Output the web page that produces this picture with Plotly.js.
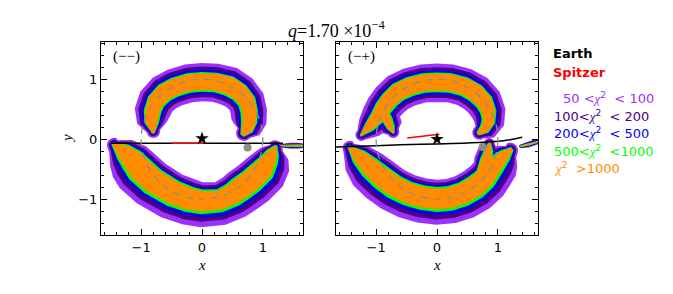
<!DOCTYPE html>
<html><head><meta charset="utf-8">
<script src="https://cdn.plot.ly/plotly-3.0.1.min.js"></script>
<style>html,body{margin:0;padding:0;background:#fff}</style>
</head><body><div id="chart" style="width:673px;height:294px"></div>
<script>
// ---------- data ----------
const levelColors = ['#9B30FF','#4B0082','#0000FF','#00FF00','#FF8C00'];

// extra half-widths of each chi2 level beyond the core (outer level -> core)
const padUpOuter  = [0.17, 0.11, 0.06, 0.02, 0];
const padUpInner  = [0.19, 0.12, 0.07, 0.03, 0];
const padLowInner = [0.15, 0.10, 0.06, 0.03, 0];
const padLowOuter = [0.26, 0.17, 0.10, 0.045, 0];
const padSmall    = [0.045, 0.03, 0.02, 0.01, 0];

// left panel (--) : upper arc
const luX = [-0.80,-0.83,-0.82,-0.76,-0.62,-0.45,-0.22, 0.00, 0.22, 0.45, 0.62, 0.74, 0.78, 0.78, 0.74, 0.69];
const luY = [ 0.13, 0.27, 0.46, 0.63, 0.78, 0.87, 0.94, 0.96, 0.95, 0.89, 0.78, 0.63, 0.46, 0.29, 0.16, 0.10];
const luW = [ 0.03, 0.10, 0.12, 0.13, 0.14, 0.14, 0.14, 0.14, 0.14, 0.15, 0.14, 0.13, 0.12, 0.11, 0.09, 0.05];
// left panel : lower arc
const llX = [-1.44,-1.30,-1.15,-1.02,-0.80,-0.47,-0.20, 0.00, 0.29, 0.50, 0.62, 0.80, 1.00, 1.10, 1.16, 1.20];
const llY = [-0.10,-0.20,-0.34,-0.50,-0.70,-0.90,-1.00,-1.04,-1.02,-0.92,-0.83,-0.70,-0.51,-0.35,-0.22,-0.14];
const llW = [ 0.03, 0.12, 0.17, 0.20, 0.20, 0.19, 0.18, 0.17, 0.16, 0.17, 0.18, 0.18, 0.17, 0.12, 0.08, 0.03];
// left panel : small blobs on the right
const lbX = [1.30, 1.45, 1.58, 1.70];
const lbY = [-0.11,-0.11,-0.11,-0.11];
const lbW = [0.01, 0.015, 0.015, 0.015];

// right panel (-+) : upper arc
const ruX = [-1.24,-1.12,-0.99,-0.89,-0.78,-0.64,-0.45,-0.22, 0.00, 0.22, 0.45, 0.64, 0.78, 0.85, 0.85, 0.78, 0.70];
const ruY = [ 0.07, 0.20, 0.36, 0.52, 0.66, 0.79, 0.88, 0.94, 0.95, 0.94, 0.88, 0.77, 0.62, 0.45, 0.29, 0.16, 0.11];
const ruW = [ 0.02, 0.07, 0.10, 0.12, 0.13, 0.14, 0.14, 0.14, 0.14, 0.14, 0.14, 0.14, 0.13, 0.11, 0.09, 0.07, 0.04];
// right panel : inner prong of upper arc
const rpX = [-0.92,-0.82,-0.76,-0.72];
const rpY = [ 0.50, 0.32, 0.19, 0.12];
const rpW = [ 0.08, 0.07, 0.05, 0.02];
// right panel : lower arc
const rlX = [-1.43,-1.28,-1.10,-0.90,-0.70,-0.48,-0.24, 0.00, 0.22, 0.43, 0.62, 0.78, 0.90, 1.02, 1.12, 1.20];
const rlY = [-0.15,-0.29,-0.47,-0.64,-0.79,-0.90,-0.97,-1.00,-0.98,-0.91,-0.80,-0.66,-0.50,-0.36,-0.26,-0.19];
const rlW = [ 0.03, 0.11, 0.15, 0.17, 0.17, 0.17, 0.17, 0.17, 0.17, 0.17, 0.17, 0.16, 0.14, 0.11, 0.08, 0.04];
// right panel : upward prong of lower arc
const rqX = [0.76, 0.81, 0.85, 0.86];
const rqY = [-0.55,-0.35,-0.18,-0.07];
const rqW = [0.10, 0.08, 0.05, 0.02];
// right panel : small blobs
const rbX = [1.38, 1.50, 1.62, 1.72];
const rbY = [-0.12,-0.09,-0.05,-0.03];
const rbW = [0.012,0.015,0.015,0.015];

// trajectories and objects
const earthLX = [-1.50, 1.33], earthLY = [-0.07, -0.07];
const spitzLX = [-0.50, 0.03], spitzLY = [-0.07, -0.07];
const earthRX = [-1.66,-1.00,-0.60, 0.00, 0.50, 0.90, 1.20, 1.40];
const earthRY = [-0.13,-0.11,-0.095,-0.08,-0.065,-0.045,-0.01, 0.03];
const spitzRX = [-0.49, 0.04], spitzRY = [0.02, 0.08];
const starLX = [0.0], starLY = [0.01], starRX = [0.0], starRY = [0.0];
const dotLX = [0.75], dotLY = [-0.14], dotRX = [0.75], dotRY = [-0.13];
const ringRadius = 1.0;

const xTicks = [-1, 0, 1], xTickText = ['−1','0','1'];
const yTicks = [-1, 0, 1], yTickText = ['−1','0','1'];

// ---------- geometry helpers ----------
function bandPolygon(cx, cy, hw, pl, pr) {
  const n = cx.length, L = [], R = [], ang = [];
  const taper = i => (i === 0 || i === n - 1) ? 0.45 : ((i === 1 || i === n - 2) ? 0.8 : 1);
  for (let i = 0; i < n; i++) {
    const i0 = Math.max(0, i - 1), i1 = Math.min(n - 1, i + 1);
    let tx = cx[i1] - cx[i0], ty = cy[i1] - cy[i0];
    const m = Math.hypot(tx, ty); tx /= m; ty /= m;
    const nx = -ty, ny = tx, t = taper(i);
    L.push([cx[i] + nx * (hw[i] + pl * t), cy[i] + ny * (hw[i] + pl * t)]);
    R.push([cx[i] - nx * (hw[i] + pr * t), cy[i] - ny * (hw[i] + pr * t)]);
    ang.push(Math.atan2(ny, nx));
  }
  const xs = [], ys = [];
  L.forEach(p => { xs.push(p[0]); ys.push(p[1]); });
  const steps = 8;
  let r = hw[n - 1] + taper(n - 1) * (pl + pr) / 2;
  for (let k = 1; k < steps; k++) {
    const a = ang[n - 1] - Math.PI * k / steps;
    xs.push(cx[n - 1] + r * Math.cos(a)); ys.push(cy[n - 1] + r * Math.sin(a));
  }
  for (let i = n - 1; i >= 0; i--) { xs.push(R[i][0]); ys.push(R[i][1]); }
  r = hw[0] + taper(0) * (pl + pr) / 2;
  for (let k = 1; k < steps; k++) {
    const a = ang[0] + Math.PI - Math.PI * k / steps;
    xs.push(cx[0] + r * Math.cos(a)); ys.push(cy[0] + r * Math.sin(a));
  }
  xs.push(xs[0]); ys.push(ys[0]);
  return {xs, ys};
}

const bands = [
  {x: luX, y: luY, w: luW, pl: padUpOuter,  pr: padUpInner,  ax: 'x',  ay: 'y'},
  {x: llX, y: llY, w: llW, pl: padLowInner, pr: padLowOuter, ax: 'x',  ay: 'y'},
  {x: lbX, y: lbY, w: lbW, pl: padSmall,    pr: padSmall,    ax: 'x',  ay: 'y'},
  {x: ruX, y: ruY, w: ruW, pl: padUpOuter,  pr: padUpInner,  ax: 'x2', ay: 'y2'},
  {x: rpX, y: rpY, w: rpW, pl: padUpInner,  pr: padUpOuter,  ax: 'x2', ay: 'y2'},
  {x: rlX, y: rlY, w: rlW, pl: padLowInner, pr: padLowOuter, ax: 'x2', ay: 'y2'},
  {x: rqX, y: rqY, w: rqW, pl: padLowInner, pr: padLowInner, ax: 'x2', ay: 'y2'},
  {x: rbX, y: rbY, w: rbW, pl: padSmall,    pr: padSmall,    ax: 'x2', ay: 'y2'}
];

const traces = [];
for (let lv = 0; lv < levelColors.length; lv++) {
  bands.forEach(b => {
    const p = bandPolygon(b.x, b.y, b.w, b.pl[lv], b.pr[lv]);
    traces.push({x: p.xs, y: p.ys, xaxis: b.ax, yaxis: b.ay, type: 'scatter', mode: 'lines',
      fill: 'toself', fillcolor: levelColors[lv], line: {width: 0},
      hoverinfo: 'skip', showlegend: false});
  });
}
function line(x, y, c, ax, ay) {
  return {x, y, xaxis: ax, yaxis: ay, type: 'scatter', mode: 'lines', line: {color: c, width: 1.5, shape: 'spline'},
    hoverinfo: 'skip', showlegend: false};
}
traces.push(line(earthLX, earthLY, '#000', 'x', 'y'));
traces.push(line(spitzLX, spitzLY, '#ff0000', 'x', 'y'));
traces.push(line(earthRX, earthRY, '#000', 'x2', 'y2'));
traces.push(line(spitzRX, spitzRY, '#ff0000', 'x2', 'y2'));
function mk(x, y, sym, sz, c, ax, ay) {
  return {x, y, xaxis: ax, yaxis: ay, type: 'scatter', mode: 'markers',
    marker: {symbol: sym, size: sz, color: c, line: {width: 0}}, hoverinfo: 'skip', showlegend: false};
}
traces.push(mk(dotLX, dotLY, 'circle', 8, '#8c8c8c', 'x', 'y'));
traces.push(mk(dotRX, dotRY, 'circle', 8, '#8c8c8c', 'x2', 'y2'));
traces.push(mk(starLX, starLY, 'star', 10, '#000', 'x', 'y'));
traces.push(mk(starRX, starRY, 'star', 10, '#000', 'x2', 'y2'));

// ---------- layout ----------
const W = 673, H = 294;
const px = v => v / W, py = v => 1 - v / H;
const tickFont = {family: 'DejaVu Sans, sans-serif', size: 13, color: '#000'};
function axis(dom, rng, tv, tt, showLabels, anchor) {
  return {domain: dom, range: rng, anchor, tickmode: 'array', tickvals: tv, ticktext: tt,
    showticklabels: showLabels, ticks: 'inside', ticklen: 6, tickwidth: 1, tickcolor: '#000',
    minor: {tickmode: 'linear', tick0: 0, dtick: 0.2, ticks: 'inside', ticklen: 3, tickwidth: 1, tickcolor: '#000'},
    showline: true, linecolor: '#000', linewidth: 1, mirror: 'ticks', showgrid: false, zeroline: false,
    tickfont: tickFont, fixedrange: true};
}
const xd1 = [101 / W, 303 / W], xd2 = [336 / W, 538 / W], yd = [1 - 235 / H, 1 - 42 / H];
const xr = [-1.66, 1.66], yr = [-1.6, 1.62];

const serif = 'Liberation Serif, DejaVu Serif, serif';
const sans = 'DejaVu Sans, sans-serif';
const ann = [];
function A(text, x, y, opts) {
  ann.push(Object.assign({text, x: px(x), y: py(y), xref: 'paper', yref: 'paper', showarrow: false,
    xanchor: 'left', yanchor: 'middle', font: {family: sans, size: 13, color: '#000'}}, opts || {}));
}
A('<i>q</i>=1.70 ×10<sup>−4</sup>', 336.5, 29, {xanchor: 'center', font: {family: serif, size: 18, color: '#000'}});
A('(−−)', 111, 56, {font: {family: serif, size: 15, color: '#000'}});
A('(−+)', 346, 56, {font: {family: serif, size: 15, color: '#000'}});
A('<i>x</i>', 202.3, 265, {xanchor: 'center', font: {family: serif, size: 15, color: '#000'}});
A('<i>x</i>', 437.3, 265, {xanchor: 'center', font: {family: serif, size: 15, color: '#000'}});
A('<i>y</i>', 67, 139, {xanchor: 'center', textangle: -90, font: {family: serif, size: 15, color: '#000'}});
A('<b>Earth</b>', 551, 54, {font: {family: sans, size: 13, color: '#000'}});
A('<b>Spitzer</b>', 551, 72, {font: {family: sans, size: 13, color: '#ff0000'}});
const chi = '<span style="font-family:Liberation Serif,serif"><i>χ</i></span><sup>2</sup>';
const legendTexts = ['50 &lt;' + chi + '  &lt; 100', '100&lt;' + chi + '  &lt; 200', '200&lt;' + chi + '  &lt; 500',
  '500&lt;' + chi + '  &lt;1000', chi + '  &gt;1000'];
const legendX = [561, 552, 552, 552, 552];
const legendY = [98, 116, 133, 151, 168];
legendTexts.forEach((t, i) => A(t, legendX[i], legendY[i], {font: {family: sans, size: 13, color: levelColors[i]}}));

const layout = {
  width: W, height: H, margin: {l: 0, r: 0, t: 0, b: 0}, paper_bgcolor: '#fff', plot_bgcolor: '#fff',
  showlegend: false,
  xaxis: axis(xd1, xr, xTicks, xTickText, true, 'y'),
  yaxis: axis(yd, yr, yTicks, yTickText, true, 'x'),
  xaxis2: axis(xd2, xr, xTicks, xTickText, true, 'y2'),
  yaxis2: axis(yd, yr, yTicks, yTickText, false, 'x2'),
  shapes: [
    {type: 'circle', xref: 'x', yref: 'y', x0: -ringRadius, x1: ringRadius, y0: -ringRadius, y1: ringRadius,
      line: {color: '#8c8c8c', width: 1.3, dash: '7px,6px'}, layer: 'above'},
    {type: 'circle', xref: 'x2', yref: 'y2', x0: -ringRadius, x1: ringRadius, y0: -ringRadius, y1: ringRadius,
      line: {color: '#8c8c8c', width: 1.3, dash: '7px,6px'}, layer: 'above'}
  ],
  annotations: ann
};
Plotly.newPlot('chart', traces, layout, {staticPlot: true, displayModeBar: false});
</script></body></html>
